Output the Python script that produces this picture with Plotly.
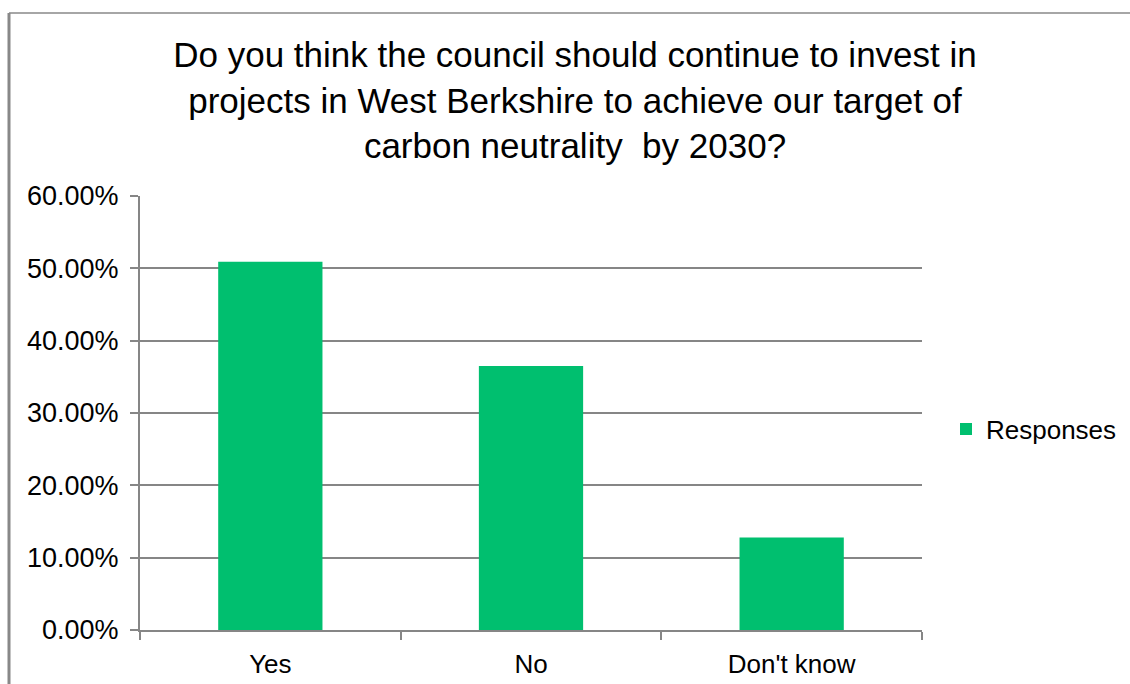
import plotly.graph_objects as go

categories = ["Yes", "No", "Don't know"]
responses = [0.509, 0.365, 0.128]
y_ticks = [0, 0.1, 0.2, 0.3, 0.4, 0.5, 0.6]

W, H = 1130, 684
L, R, T, B = 140, 922, 196, 630
font = "Liberation Sans, Arial, sans-serif"
grey = "#868686"

fig = go.Figure()
fig.add_trace(go.Bar(x=categories, y=responses, name="Responses",
                     marker=dict(color="#00BF6F", line=dict(width=0)),
                     showlegend=True))

px_x = lambda p: (p - L) / (R - L)
px_y = lambda p: (B - p) / (B - T)

fig.update_layout(
    width=W, height=H,
    margin=dict(l=L, r=W - R, t=T, b=H - B, pad=0, autoexpand=False),
    paper_bgcolor="white", plot_bgcolor="white",
    font=dict(family=font, size=27, color="black"),
    bargap=0.6,
    title=dict(text="Do you think the council should continue to invest in<br>projects in West Berkshire to achieve our target of<br>carbon neutrality  by 2030?",
               x=575 / W, xanchor="center", y=1 - 67 / H, yanchor="middle",
               xref="container", yref="container",
               font=dict(family=font, size=35, color="black")),
    showlegend=True,
    legend=dict(x=px_x(946), xanchor="left", y=px_y(429), yanchor="middle",
                font=dict(size=26), bgcolor="rgba(0,0,0,0)",
                itemwidth=30),
    xaxis=dict(showline=True, linecolor=grey, linewidth=2, ticks="outside",
               tickson="boundaries", ticklen=8, tickcolor=grey, tickwidth=2,
               showgrid=False, tickfont=dict(size=26), ticklabelstandoff=10,
               automargin=False),
    yaxis=dict(range=[0, 0.6], tickvals=y_ticks, tickformat=".2%",
               showline=True, linecolor=grey, linewidth=2, ticks="outside",
               ticklen=8, tickcolor=grey, tickwidth=2, showgrid=True,
               gridcolor=grey, gridwidth=2, zeroline=False,
               tickfont=dict(size=27), ticklabelstandoff=6, automargin=False),
    shapes=[
        dict(type="line", xref="paper", yref="paper",
             x0=px_x(9), x1=px_x(1130), y0=px_y(13), y1=px_y(13),
             line=dict(color="#A6A6A6", width=2)),
        dict(type="line", xref="paper", yref="paper",
             x0=px_x(9), x1=px_x(9), y0=px_y(13), y1=px_y(684),
             line=dict(color="#888888", width=3)),
    ],
)

fig.write_html("out.html", config={"displayModeBar": False},
               post_script="document.body.style.margin='0';")
